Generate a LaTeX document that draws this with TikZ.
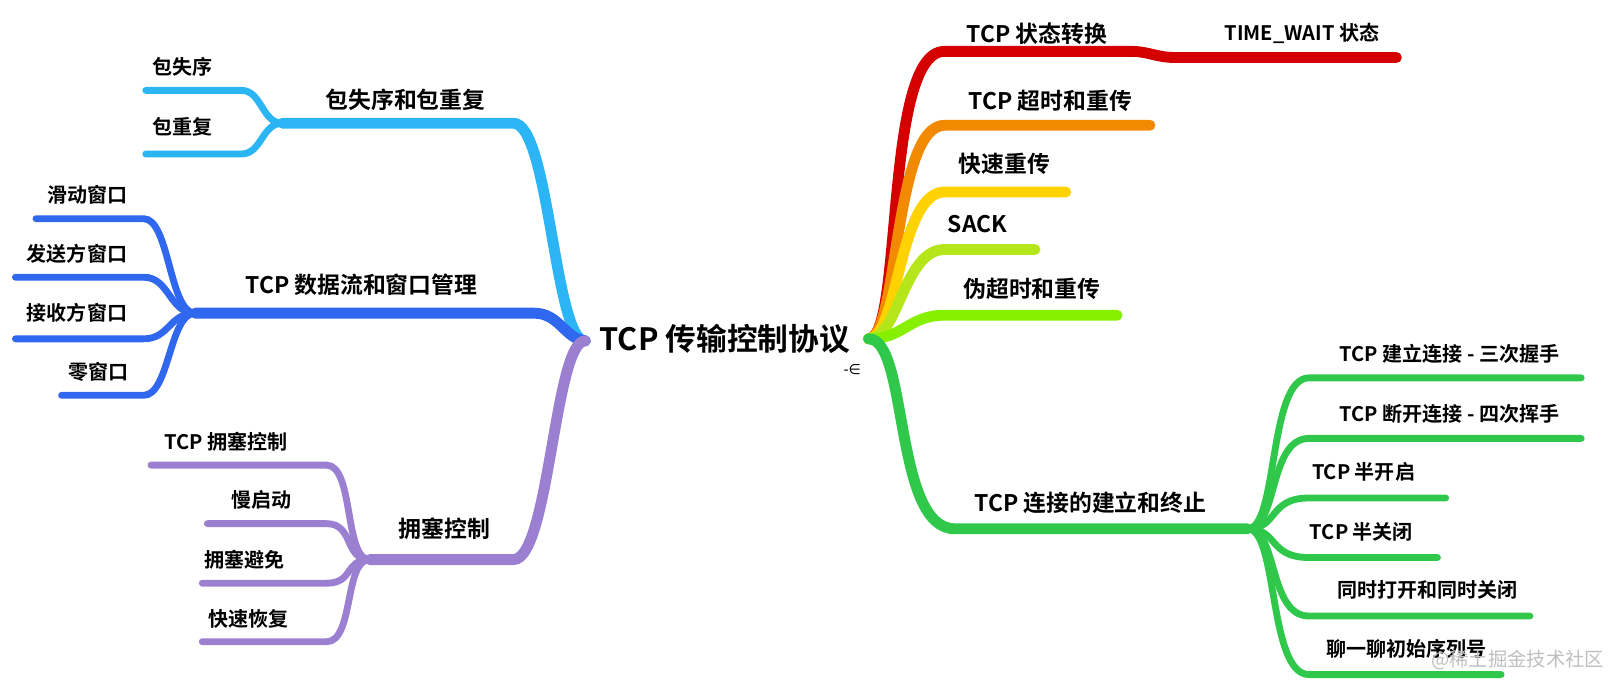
\documentclass[tikz,border=0pt]{standalone}
\usepackage{fontspec}
\setmainfont{Noto Sans CJK SC}[BoldFont={* Bold}]
\newfontfamily\djv{DejaVu Sans}
\definecolor{cA}{HTML}{2BB5F5}\definecolor{cB}{HTML}{2F67EE}\definecolor{cC}{HTML}{9B80D2}
\definecolor{cR}{HTML}{D40000}\definecolor{cO}{HTML}{F28A00}\definecolor{cY}{HTML}{FFD200}
\definecolor{cS}{HTML}{B4E61A}\definecolor{cL}{HTML}{86F000}\definecolor{cG}{HTML}{2FC84A}
\begin{document}
\begin{tikzpicture}[x=0.02054cm,y=-0.02054cm,
  main/.style={line width=6.2pt,line cap=round},
  sub/.style={line width=3.9pt,line cap=round},
  lab/.style={font=\bfseries\fontsize{13}{14}\selectfont,inner sep=0pt},
  slab/.style={font=\bfseries\fontsize{11.4}{13}\selectfont,inner sep=0pt}]
\node[font=\bfseries\fontsize{17.5}{19}\selectfont,inner sep=0pt] (root) at (706,330) {TCP 传输控制协议};
\node[font=\djv\fontsize{8}{9}\selectfont] (ic) at (830,360) {-∈};
\coordinate (L) at (570,332); \coordinate (R) at (846,330);
% left branch A
\coordinate (A1) at (500,120); \coordinate (A2) at (275,120);
\coordinate (A3) at (235,88); \coordinate (A4) at (142,88);
\coordinate (A5) at (235,150); \coordinate (A6) at (142,150);
\draw[main,cA] (L) .. controls (540,332) and (535,120) .. (A1) -- (A2);
\draw[sub,cA] (A2) .. controls (255,120) and (255,88) .. (A3) -- (A4);
\draw[sub,cA] (A2) .. controls (255,120) and (255,150) .. (A5) -- (A6);
\node[lab] (a) at (395,97) {包失序和包重复};
\node[slab] (a1) at (178,65) {包失序};
\node[slab] (a2) at (178,124) {包重复};
% left branch B
\coordinate (B1) at (190,305);
\draw[main,cB] (L) .. controls (550,330) and (545,305) .. (520,305) -- (B1);
\foreach \y/\x in {213/35,270/15,330/15,385/60}{
  \draw[sub,cB] (B1) .. controls (165,305) and (165,\y) .. (140,\y) -- (\x,\y);}
\node[lab] (b) at (352,277) {TCP 数据流和窗口管理};
\node[slab] (b1) at (85,190) {滑动窗口};
\node[slab] (b2) at (75,247) {发送方窗口};
\node[slab] (b3) at (75,305) {接收方窗口};
\node[slab] (b4) at (96,362) {零窗口};
% left branch C
\coordinate (C1) at (360,545);
\draw[main,cC] (L) .. controls (540,332) and (535,545) .. (500,545) -- (C1);
\foreach \y/\x in {453/147,510/202,568/197,625/197}{
  \draw[sub,cC] (C1) .. controls (335,545) and (345,\y) .. (318,\y) -- (\x,\y);}
\node[lab] (c) at (433,515) {拥塞控制};
\node[slab] (c1) at (220,430) {TCP 拥塞控制};
\node[slab] (c2) at (255,487) {慢启动};
\node[slab] (c3) at (238,545) {拥塞避免};
\node[slab] (c4) at (242,603) {快速恢复};
% right branches
\draw[main,cR] (R) .. controls (880,330) and (860,50) .. (920,50) -- (1100,50) .. controls (1120,50) and (1125,56) .. (1145,56) -- (1360,56);
\draw[main,cO] (R) .. controls (875,330) and (870,122) .. (920,122) -- (1120,122);
\draw[main,cY] (R) .. controls (875,330) and (875,187) .. (920,187) -- (1038,187);
\draw[main,cS] (R) .. controls (875,330) and (880,243) .. (920,243) -- (1008,243);
\draw[main,cL] (R) .. controls (880,330) and (885,307) .. (920,307) -- (1088,307);
\node[lab] (r1) at (1010,33) {TCP 状态转换};
\node[slab] (r1a) at (1268,33) {TIME\_WAIT 状态};
\node[lab] (r2) at (1023,98) {TCP 超时和重传};
\node[lab] (r3) at (978,160) {快速重传};
\node[lab] (r4) at (952,218) {SACK};
\node[lab] (r5) at (1005,281) {伪超时和重传};
\coordinate (G1) at (1215,515);
\draw[main,cG] (R) .. controls (885,330) and (870,515) .. (930,515) -- (G1);
\foreach \y/\x in {368/1540,427/1540,485/1408,543/1400,600/1490,657/1462}{
  \draw[sub,cG] (G1) .. controls (1245,515) and (1235,\y) .. (1275,\y) -- (\x,\y);}
\node[lab] (g) at (1062,490) {TCP 连接的建立和终止};
\node[slab] (g1) at (1412,345) {TCP 建立连接 - 三次握手};
\node[slab] (g2) at (1412,403) {TCP 断开连接 - 四次挥手};
\node[slab] (g3) at (1328,460) {TCP 半开启};
\node[slab] (g4) at (1326,518) {TCP 半关闭};
\node[slab] (g5) at (1390,575) {同时打开和同时关闭};
\node[slab] (g6) at (1370,632) {聊一聊初始序列号};
\node[font=\fontsize{11}{12}\selectfont,text=gray!50,inner sep=0pt] (wm) at (1478,643) {@稀土掘金技术社区};
\pgfresetboundingbox
\useasboundingbox (0,0) rectangle (1570,674);
\end{tikzpicture}
\end{document}
